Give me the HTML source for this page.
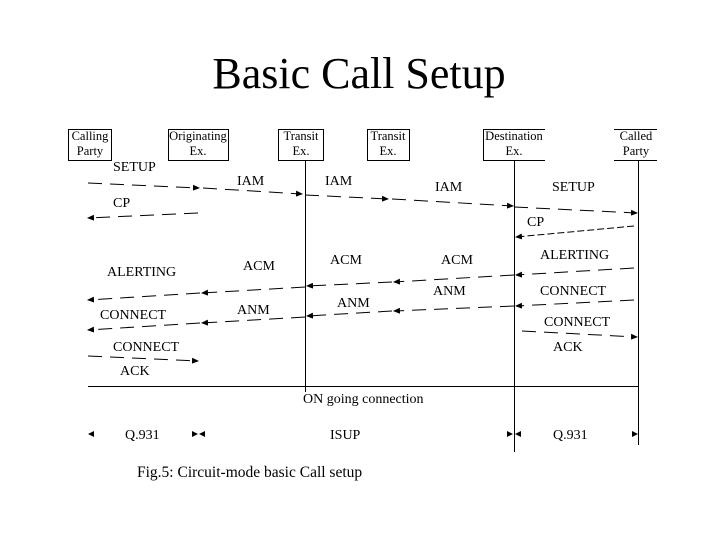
<!DOCTYPE html>
<html><head><meta charset="utf-8"><style>
html,body{margin:0;padding:0;background:#fff;width:720px;height:540px;overflow:hidden}
svg{display:block}
text{font-family:"Liberation Serif",serif;fill:#000}
</style></head><body>
<svg width="720" height="540" viewBox="0 0 720 540" xmlns="http://www.w3.org/2000/svg">
<defs>
<marker id="a" markerWidth="7" markerHeight="6" refX="6" refY="3" orient="auto" markerUnits="userSpaceOnUse"><path d="M0,0 L7,3 L0,6 Z" fill="#000"/></marker>
</defs>
<text x="359" y="88" font-size="44" text-anchor="middle">Basic Call Setup</text>
<g fill="none" stroke="#000" stroke-width="1">
<rect x="68.5" y="129.5" width="43" height="31"/>
<rect x="168.5" y="129.5" width="60" height="31"/>
<rect x="278.5" y="129.5" width="45" height="31"/>
<rect x="367.5" y="129.5" width="42" height="31"/>
<polyline points="545,129.5 483.5,129.5 483.5,160.5 545,160.5"/>
<polyline points="614,129.5 657,129.5"/>
<polyline points="614,160.5 657,160.5"/>
<line x1="305.5" y1="160" x2="305.5" y2="392"/>
<line x1="514.5" y1="160" x2="514.5" y2="452"/>
<line x1="638.5" y1="160" x2="638.5" y2="445"/>
<line x1="88" y1="386.5" x2="638" y2="386.5"/>
</g>
<g fill="none" stroke="#000" stroke-width="1" stroke-dasharray="14,8">
<line x1="88" y1="183" x2="199" y2="188" marker-end="url(#a)"/>
<line x1="203" y1="188" x2="302" y2="194" marker-end="url(#a)"/>
<line x1="305" y1="195" x2="388" y2="199" marker-end="url(#a)"/>
<line x1="392" y1="199" x2="513" y2="206" marker-end="url(#a)"/>
<line x1="514" y1="207" x2="637" y2="213" marker-end="url(#a)"/>
<line x1="198" y1="213" x2="88" y2="218" marker-end="url(#a)"/>
<line x1="634" y1="226" x2="516" y2="237" stroke-dasharray="7,3" marker-end="url(#a)"/>
<line x1="634" y1="268" x2="516" y2="275" marker-end="url(#a)"/>
<line x1="514" y1="275" x2="394" y2="282" marker-end="url(#a)"/>
<line x1="392" y1="282" x2="307" y2="286" marker-end="url(#a)"/>
<line x1="305" y1="287" x2="202" y2="293" marker-end="url(#a)"/>
<line x1="200" y1="293" x2="88" y2="300" marker-end="url(#a)"/>
<line x1="634" y1="300" x2="516" y2="306" marker-end="url(#a)"/>
<line x1="514" y1="306" x2="394" y2="311" marker-end="url(#a)"/>
<line x1="392" y1="311" x2="307" y2="316" marker-end="url(#a)"/>
<line x1="305" y1="317" x2="202" y2="323" marker-end="url(#a)"/>
<line x1="200" y1="323" x2="88" y2="330" marker-end="url(#a)"/>
<line x1="88" y1="356" x2="198" y2="361" marker-end="url(#a)"/>
<line x1="522" y1="331" x2="637" y2="337" marker-end="url(#a)"/>
</g>
<g fill="#000">
<path d="M88,434 L94,431 L94,437Z"/>
<path d="M198,434 L192,431 L192,437Z"/>
<path d="M199,434 L205,431 L205,437Z"/>
<path d="M513,434 L507,431 L507,437Z"/>
<path d="M515,434 L521,431 L521,437Z"/>
<path d="M638,434 L632,431 L632,437Z"/>
</g>
<g font-size="12.5" text-anchor="middle">
<text x="90" y="140">Calling</text><text x="90" y="155">Party</text>
<text x="198" y="140">Originating</text><text x="198" y="155">Ex.</text>
<text x="301" y="140">Transit</text><text x="301" y="155">Ex.</text>
<text x="388" y="140">Transit</text><text x="388" y="155">Ex.</text>
<text x="514" y="140">Destination</text><text x="514" y="155">Ex.</text>
<text x="636" y="140">Called</text><text x="636" y="155">Party</text>
</g>
<g font-size="14">
<text x="113" y="171">SETUP</text>
<text x="113" y="207">CP</text>
<text x="237" y="185">IAM</text>
<text x="325" y="185">IAM</text>
<text x="435" y="191">IAM</text>
<text x="552" y="191">SETUP</text>
<text x="527" y="226">CP</text>
<text x="540" y="259">ALERTING</text>
<text x="330" y="264">ACM</text>
<text x="441" y="264">ACM</text>
<text x="243" y="270">ACM</text>
<text x="107" y="276">ALERTING</text>
<text x="433" y="295">ANM</text>
<text x="540" y="295">CONNECT</text>
<text x="337" y="307">ANM</text>
<text x="237" y="314">ANM</text>
<text x="100" y="319">CONNECT</text>
<text x="544" y="326">CONNECT</text>
<text x="113" y="351">CONNECT</text>
<text x="553" y="351">ACK</text>
<text x="120" y="375">ACK</text>
<text x="303" y="403">ON going connection</text>
<text x="125" y="439">Q.931</text>
<text x="330" y="439">ISUP</text>
<text x="553" y="439">Q.931</text>
<text x="137" y="477" font-size="15.5">Fig.5: Circuit-mode basic Call setup</text>
</g>
</svg>
</body></html>
